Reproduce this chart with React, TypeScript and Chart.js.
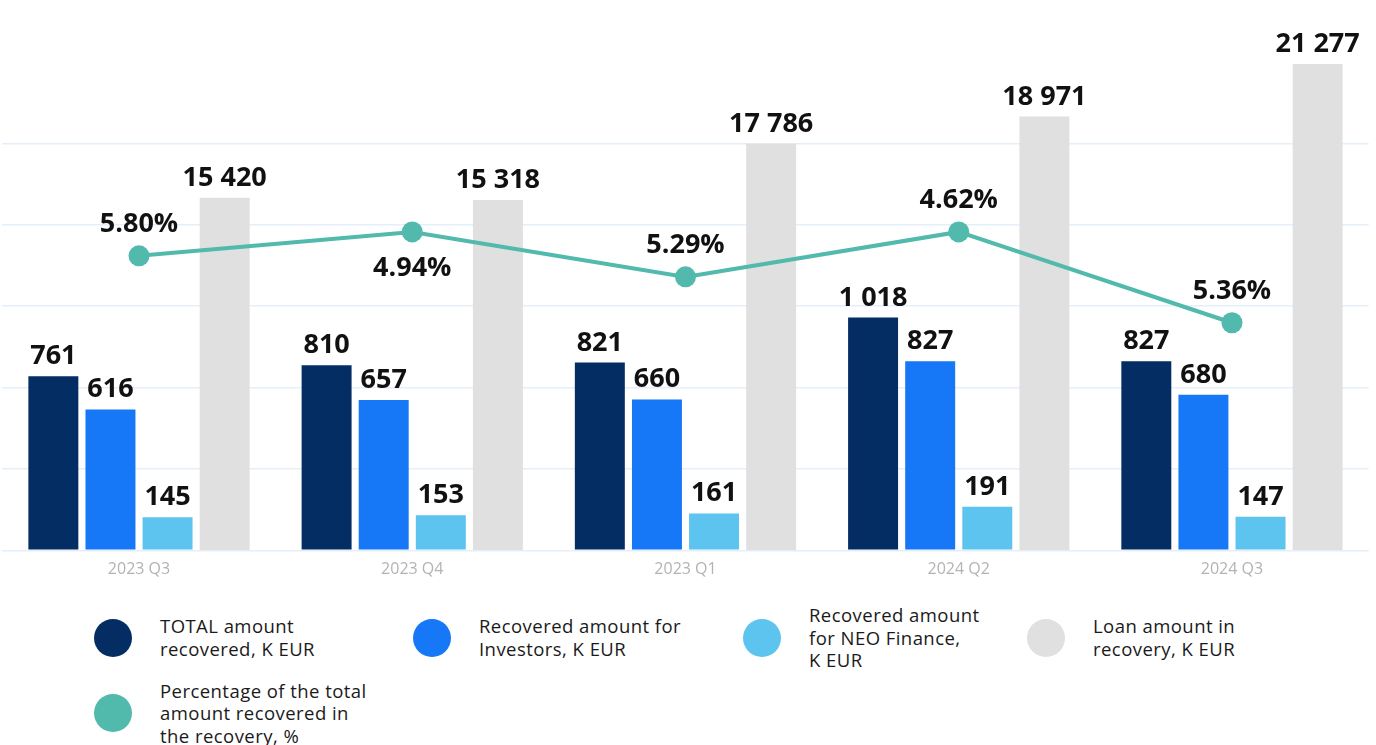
import React, { useEffect, useRef } from 'react';
import { Chart, registerables } from 'chart.js';

Chart.register(...registerables);

// ---- data ----
const categories = ['2023 Q3', '2023 Q4', '2023 Q1', '2024 Q2', '2024 Q3'];
const totalRecovered = [761, 810, 821, 1018, 827];
const investorsRecovered = [616, 657, 660, 827, 680];
const neoRecovered = [145, 153, 161, 191, 147];
const loanInRecovery = [15420, 15318, 17786, 18971, 21277];
const recoveryPct = [5.8, 4.94, 5.29, 4.62, 5.36];
// level at which each point of the percentage line sits in the reference (on its own 0-10 axis)
const recoveryLineLevel = [6.03, 6.52, 5.6, 6.52, 4.66];
const pctLabelSide = ['above', 'below', 'above', 'above', 'above'];

const amountAxisMax = 2136;
const amountAxisStep = 356;
const loanAxisMax = 21360;
const lineAxisMax = 10;

const COLORS = {
  total: '#032d63',
  investors: '#1677f7',
  neo: '#5dc4ef',
  loan: '#e0e0e0',
  pct: '#52b9ad',
};

const legendItems = [
  { lines: ['TOTAL amount', 'recovered, K EUR'], color: COLORS.total },
  { lines: ['Recovered amount for', 'Investors, K EUR'], color: COLORS.investors },
  { lines: ['Recovered amount', 'for NEO Finance,', 'K EUR'], color: COLORS.neo },
  { lines: ['Loan amount in', 'recovery, K EUR'], color: COLORS.loan },
  { lines: ['Percentage of the total', 'amount recovered in', 'the recovery, %'], color: COLORS.pct },
];

function fmt(v: number): string {
  return String(v).replace(/\B(?=(\d{3})+(?!\d))/g, ' ');
}

const valueLabelPlugin = {
  id: 'valueLabels',
  afterDatasetsDraw(chart: any) {
    const ctx = chart.ctx;
    ctx.save();
    ctx.font = '700 27px "Open Sans"';
    ctx.fillStyle = '#111111';
    ctx.textAlign = 'center';
    ctx.textBaseline = 'alphabetic';
    chart.data.datasets.forEach((ds: any, di: number) => {
      const meta = chart.getDatasetMeta(di);
      if (meta.type === 'bar') {
        meta.data.forEach((el: any, i: number) => {
          ctx.fillText(fmt(ds.data[i]), el.x, el.y - 12);
        });
      } else {
        meta.data.forEach((el: any, i: number) => {
          const y = pctLabelSide[i] === 'below' ? el.y + 44 : el.y - 24;
          ctx.fillText(recoveryPct[i].toFixed(2) + '%', el.x, y);
        });
      }
    });
    ctx.restore();
  },
};

function ChartCanvas() {
  const ref = useRef<HTMLCanvasElement | null>(null);
  useEffect(() => {
    if (!ref.current) return;
    const barCommon = {
      type: 'bar' as const,
      barPercentage: 0.875,
      categoryPercentage: 0.836,
      order: 1,
    };
    const chart = new Chart(ref.current, {
      type: 'bar',
      data: {
        labels: categories,
        datasets: [
          {
            type: 'line',
            label: 'Percentage of the total amount recovered in the recovery, %',
            data: recoveryLineLevel,
            yAxisID: 'yLine',
            borderColor: COLORS.pct,
            backgroundColor: COLORS.pct,
            borderWidth: 4,
            pointRadius: 10.5,
            pointHoverRadius: 10.5,
            pointBackgroundColor: COLORS.pct,
            pointBorderWidth: 0,
            tension: 0,
            clip: false,
            order: 0,
          } as any,
          { ...barCommon, label: 'TOTAL amount recovered, K EUR', data: totalRecovered, backgroundColor: COLORS.total, yAxisID: 'y' },
          { ...barCommon, label: 'Recovered amount for Investors, K EUR', data: investorsRecovered, backgroundColor: COLORS.investors, yAxisID: 'y' },
          { ...barCommon, label: 'Recovered amount for NEO Finance, K EUR', data: neoRecovered, backgroundColor: COLORS.neo, yAxisID: 'y' },
          { ...barCommon, label: 'Loan amount in recovery, K EUR', data: loanInRecovery, backgroundColor: COLORS.loan, yAxisID: 'yLoan' },
        ],
      },
      options: {
        responsive: true,
        maintainAspectRatio: false,
        animation: false,
        layout: { autoPadding: false, padding: { left: 2.4, right: 7.4, top: 62, bottom: 19.5 } },
        plugins: {
          legend: { display: false },
          tooltip: { enabled: false },
        },
        scales: {
          x: {
            grid: { display: false },
            border: { display: false },
            ticks: {
              color: '#b3b3b3',
              font: { family: '"Open Sans"', size: 16 },
              padding: 1.5,
            },
          },
          y: {
            min: 0,
            max: amountAxisMax,
            border: { display: false },
            afterFit: (s: any) => {
              s.width = 0;
            },
            grid: {
              drawTicks: false,
              color: (c: any) => (c.tick && c.tick.value >= amountAxisMax ? 'rgba(0,0,0,0)' : '#e4eff9'),
              lineWidth: 1.5,
            },
            ticks: { display: false, stepSize: amountAxisStep, padding: 0 },
          },
          yLoan: {
            min: 0,
            max: loanAxisMax,
            display: false,
          },
          yLine: {
            min: 0,
            max: lineAxisMax,
            display: false,
          },
        },
      } as any,
      plugins: [valueLabelPlugin],
    });
    return () => chart.destroy();
  }, []);
  return (
    <div style={{ position: 'absolute', left: 0, top: 0, width: 1376, height: 600 }}>
      <canvas ref={ref} />
    </div>
  );
}

function Legend() {
  return (
    <div
      style={{
        position: 'absolute',
        left: 94,
        top: 604,
        display: 'grid',
        gridTemplateColumns: '319px 330px 284px auto',
        rowGap: 8,
        alignItems: 'center',
        fontFamily: '"Open Sans", sans-serif',
        fontSize: 18.5,
        letterSpacing: '0.45px',
        lineHeight: '22.5px',
        color: '#1a1a1a',
      }}
    >
      {legendItems.map((it, i) => (
        <div key={i} style={{ display: 'flex', alignItems: 'center' }}>
          <span
            style={{
              display: 'inline-block',
              width: 38,
              height: 38,
              borderRadius: '50%',
              background: it.color,
              flex: '0 0 38px',
              marginRight: 28,
            }}
          />
          <span>
            {it.lines.map((l, j) => (
              <React.Fragment key={j}>
                {l}
                {j < it.lines.length - 1 ? <br /> : null}
              </React.Fragment>
            ))}
          </span>
        </div>
      ))}
    </div>
  );
}

export default function App() {
  return (
    <div style={{ position: 'absolute', left: 0, top: 0, width: 1376, height: 745, background: '#ffffff', overflow: 'hidden' }}>
      <ChartCanvas />
      <Legend />
    </div>
  );
}
